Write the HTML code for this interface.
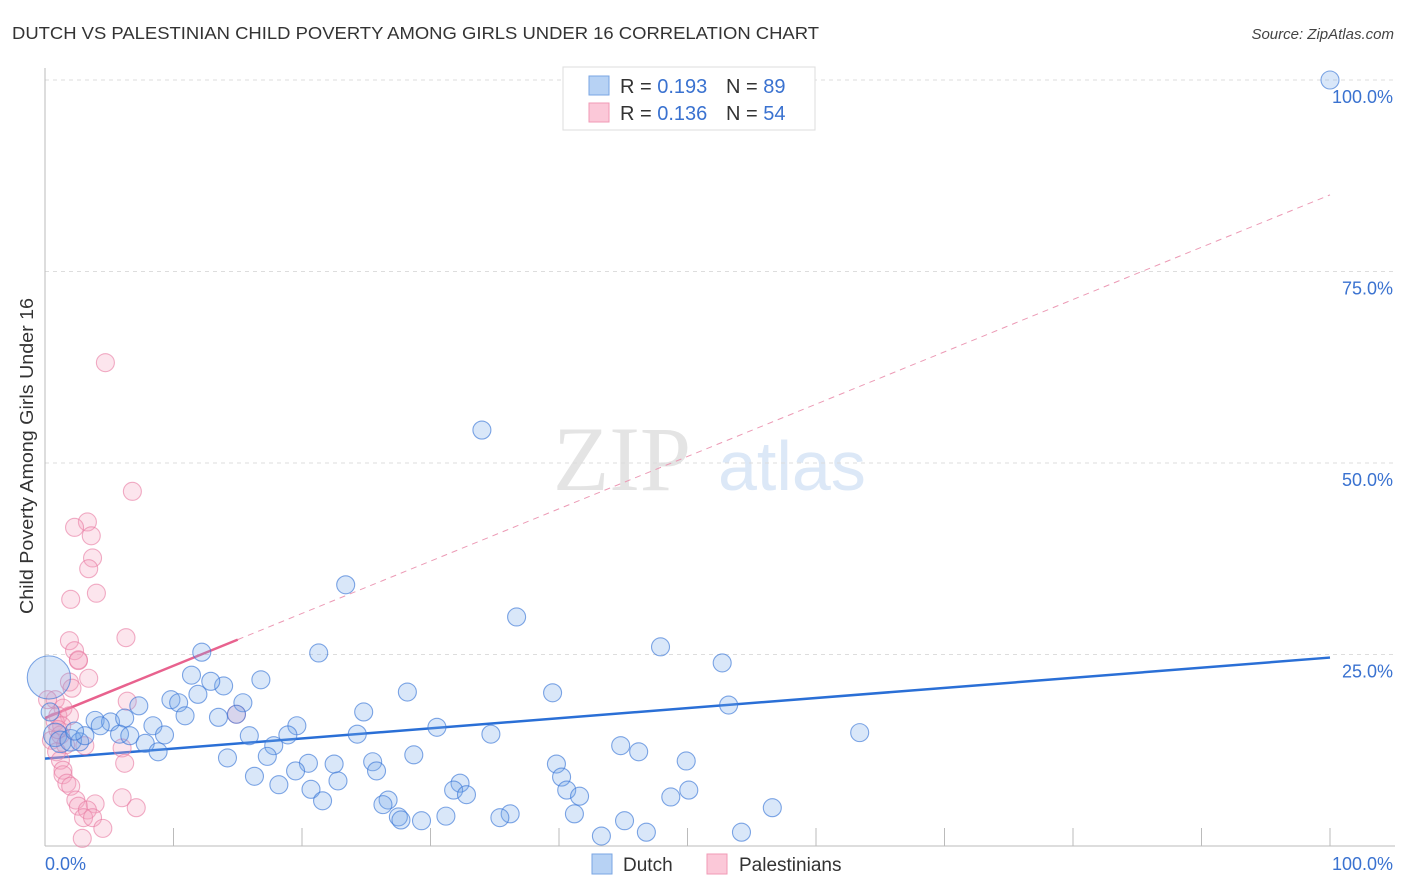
<!DOCTYPE html>
<html><head><meta charset="utf-8"><style>
body{margin:0;background:#fff;font-family:"Liberation Sans",sans-serif;}
svg{display:block}
</style></head><body>
<svg id="chart" width="1406" height="892" xmlns="http://www.w3.org/2000/svg">
<text x="12" y="39" font-size="17.5" fill="#333" textLength="807" lengthAdjust="spacingAndGlyphs" font-family="Liberation Sans, sans-serif">DUTCH VS PALESTINIAN CHILD POVERTY AMONG GIRLS UNDER 16 CORRELATION CHART</text>
<text x="1394" y="39" font-size="15" fill="#444" font-style="italic" text-anchor="end">Source: ZipAtlas.com</text>
<g>
<text x="553" y="490" font-size="92" fill="#e4e4e4" font-family="Liberation Serif, serif">ZIP</text>
<text x="718" y="490" font-size="70" fill="#dce8f7">atlas</text>
</g>
<g id="grid"></g>
<g id="axes"></g>
<g id="lines"></g>
<g id="pts"></g>
<text transform="translate(33,456) rotate(-90)" font-size="18" fill="#333" text-anchor="middle" textLength="316" lengthAdjust="spacingAndGlyphs">Child Poverty Among Girls Under 16</text>
<g>
<rect x="563" y="67" width="252" height="63" fill="#fff" stroke="#ddd"/>
<rect x="589" y="76" width="20" height="19" fill="#b7d2f4" stroke="#7aa6e3"/>
<rect x="589" y="103" width="20" height="19" fill="#fbc8d8" stroke="#f09ab6"/>
<text x="620" y="93" font-size="20" fill="#333">R = <tspan fill="#3a72d0">0.193</tspan></text>
<text x="726" y="93" font-size="20" fill="#333">N = <tspan fill="#3a72d0">89</tspan></text>
<text x="620" y="120" font-size="20" fill="#333">R = <tspan fill="#3a72d0">0.136</tspan></text>
<text x="726" y="120" font-size="20" fill="#333">N = <tspan fill="#3a72d0">54</tspan></text>
</g>
<g>
<rect x="592" y="854" width="20" height="20" fill="#b7d2f4" stroke="#7aa6e3"/>
<text x="623" y="871" font-size="19" fill="#333">Dutch</text>
<rect x="707" y="854" width="20" height="20" fill="#fbc8d8" stroke="#f09ab6"/>
<text x="739" y="871" font-size="19" fill="#333">Palestinians</text>
</g>
</svg>
<script>
const dutchX=[100,34.0,36.7,23.4,47.9,52.7,21.3,12.2,16.8,11.4,13.9,12.9,11.9,9.8,10.4,7.3,15.4,10.9,13.5,14.9,24.8,28.2,39.5,53.2,63.4,3.9,5.1,6.2,8.4,4.3,19.6,30.5,34.7,24.3,9.3,5.8,6.6,15.9,18.9,7.8,17.8,44.8,46.2,8.8,14.2,17.3,28.7,25.5,20.5,22.5,39.8,49.9,19.5,25.8,16.3,40.2,32.3,18.2,22.8,20.7,31.8,32.8,40.6,50.1,41.6,48.7,26.7,21.6,26.3,56.6,36.2,27.5,41.2,31.2,35.4,27.7,29.3,45.1,43.3,46.8,54.2,0.4,0.8,1.2,2.0,2.7,3.1,2.3,0.3];
const dutchY=[100,54.3,29.9,34.1,26.0,23.9,25.2,25.3,21.7,22.3,20.9,21.5,19.8,19.1,18.7,18.3,18.7,17.0,16.8,17.2,17.5,20.1,20.0,18.4,14.8,16.4,16.2,16.7,15.7,15.7,15.7,15.5,14.6,14.6,14.5,14.6,14.4,14.4,14.5,13.4,13.1,13.1,12.3,12.3,11.5,11.7,11.9,11.0,10.8,10.7,10.7,11.1,9.8,9.8,9.1,9.0,8.2,8.0,8.5,7.4,7.3,6.7,7.3,7.3,6.5,6.4,6.0,5.9,5.4,5.0,4.2,3.8,4.2,3.9,3.7,3.4,3.3,3.3,1.3,1.8,1.8,17.5,14.5,13.6,13.8,13.6,14.4,15.0,22.0];
const dutchW=[1,1,1,1,1,1,1,1,1,1,1,1,1,1,1,1,1,1,1,1,1,1,1,1,1,1,1,1,1,1,1,1,1,1,1,1,1,1,1,1,1,1,1,1,1,1,1,1,1,1,1,1,1,1,1,1,1,1,1,1,1,1,1,1,1,1,1,1,1,1,1,1,1,1,1,1,1,1,1,1,1,1,1.3,1.2,1.2,1,1,1,2.4];
const palX=[4.7,6.8,3.3,2.3,3.6,3.7,3.4,4.0,2.0,6.3,1.9,2.3,2.6,2.6,3.4,1.9,2.1,6.4,0.8,1.4,1.0,1.9,14.9,0.8,1.3,1.2,0.5,1.6,3.1,6.0,0.9,1.2,6.2,1.4,1.4,1.7,2.0,6.0,2.4,2.6,3.9,7.1,3.3,3.0,3.7,4.5,2.9,0.2,1.0];
const palY=[63.1,46.3,42.3,41.6,40.5,37.6,36.2,33.0,32.2,27.2,26.8,25.5,24.2,24.3,21.9,21.4,20.6,18.9,19.1,18.0,17.0,17.0,17.2,16.2,15.7,14.5,13.8,13.2,13.1,12.8,12.3,11.2,10.8,9.9,9.3,8.2,7.8,6.3,6.0,5.2,5.5,5.0,4.7,3.7,3.7,2.3,1.0,19.1,15.2];
const dutchTrend=[11.4,24.6];   // value at x=0, x=100
const palTrend=[16.7,85.0];     // value at x=0, x=100
const palSolidEnd=15;
const yTicks=[25,50,75,100];
const xTickVals=[0,10,20,30,40,50,60,70,80,90,100];

const NS="http://www.w3.org/2000/svg";
const X0=45,X1=1330,Y0=846,Y1=80;
const sx=v=>X0+(X1-X0)*v/100, sy=v=>Y0-(Y0-Y1)*v/100;
function mk(tag,attrs,parent){const e=document.createElementNS(NS,tag);for(const k in attrs)e.setAttribute(k,attrs[k]);document.getElementById(parent).appendChild(e);return e;}
yTicks.forEach(t=>{
  const g=mk('line',{x1:X0,x2:1395,y1:sy(t),y2:sy(t),stroke:'#ddd','stroke-dasharray':'4,4'},'grid');
  
  
  const l=mk('text',{x:1393,y:sy(t)+23,'font-size':18,fill:'#3a72d0','text-anchor':'end'},'grid');
  l.textContent=t.toFixed(1)+'%';
  
  
});
const ax=mk('line',{x1:X0,x2:X0,y1:68,y2:Y0,stroke:'#bbb'},'axes');


const bx=mk('line',{x1:X0,x2:1395,y1:Y0,y2:Y0,stroke:'#bbb'},'axes');


xTickVals.forEach(t=>{
  const tk=mk('line',{x1:sx(t),x2:sx(t),y1:828,y2:Y0,stroke:'#bbb'},'axes');
  
  
});
[[0,'0.0%','start',45],[100,'100.0%','end',1393]].forEach(([v,s,a,px])=>{
  const l=mk('text',{x:px,y:870,'font-size':18,fill:'#3a72d0','text-anchor':a},'axes');
  l.textContent=s;
  
  
});
function pt(x,y,w,fill,stroke,name){
  const c=mk('circle',{cx:sx(x),cy:sy(y),r:9*w,fill:fill,stroke:stroke,'stroke-width':1.1},'pts');
  
  
}
palX.forEach((x,i)=>pt(x,palY[i],1,'rgba(244,160,190,0.28)','rgba(232,120,160,0.6)','palestinians-point'));
dutchX.forEach((x,i)=>pt(x,dutchY[i],dutchW[i],'rgba(120,170,235,0.28)','rgba(60,120,215,0.65)','dutch-point'));
const pv=x=>palTrend[0]+(palTrend[1]-palTrend[0])*x/100;
const dv=x=>dutchTrend[0]+(dutchTrend[1]-dutchTrend[0])*x/100;
const pd=mk('line',{x1:sx(palSolidEnd),y1:sy(pv(palSolidEnd)),x2:sx(100),y2:sy(pv(100)),stroke:'#ec9ab5','stroke-dasharray':'6,5','stroke-width':1},'lines');


const ps=mk('line',{x1:sx(0),y1:sy(pv(0)),x2:sx(palSolidEnd),y2:sy(pv(palSolidEnd)),stroke:'#e8628e','stroke-width':2.5},'lines');


const ds=mk('line',{x1:sx(0),y1:sy(dv(0)),x2:sx(100),y2:sy(dv(100)),stroke:'#2a6fd6','stroke-width':2.5},'lines');


</script>
</body></html>
